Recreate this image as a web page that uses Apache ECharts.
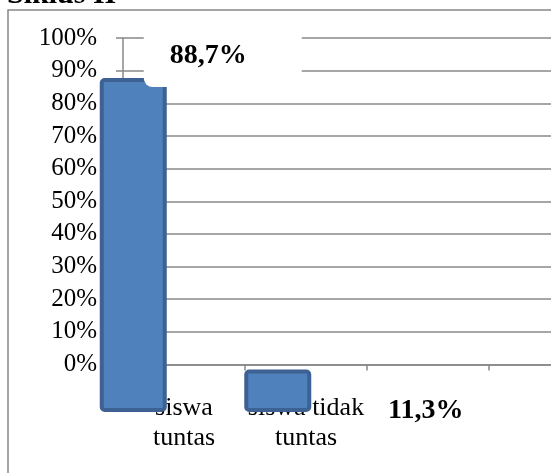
<!DOCTYPE html>
<html>
<head>
<meta charset="utf-8">
<script src="https://cdn.jsdelivr.net/npm/echarts@6/dist/echarts.min.js"></script>
<style>html,body{margin:0;padding:0;background:#fff}#c{width:551px;height:473px}</style>
</head>
<body>
<div id="c"></div>
<script>
var titleText = 'Siklus II';
var categories = ['siswa\ntuntas', 'siswa tidak\ntuntas'];
var values = [88.7, 11.3];
var valueLabels = ['88,7%', '11,3%'];
var yTicks = [0, 10, 20, 30, 40, 50, 60, 70, 80, 90, 100];

var FONT = 'Liberation Serif';
var GRAY = '#888888';
var axisCats = categories.concat(['', '']);
var barSlots = axisCats.map(function () { return ''; });

var labelStyles = [
  {
    show: true, position: [44, -53], align: 'left', verticalAlign: 'top',
    backgroundColor: '#ffffff', borderRadius: 9, padding: [16, 55, 16, 26],
    fontFamily: FONT, fontWeight: 'bold', fontSize: 28, lineHeight: 30, color: '#000'
  },
  {
    show: true, position: [181.5, 41.5], align: 'center', verticalAlign: 'middle',
    fontFamily: FONT, fontWeight: 'bold', fontSize: 28, lineHeight: 30, color: '#000'
  }
];

var barData = values.map(function (v, i) {
  return {
    value: v,
    label: Object.assign({ formatter: valueLabels[i] }, labelStyles[i])
  };
});

var chart = echarts.init(document.getElementById('c'), null, { renderer: 'canvas' });
chart.setOption({
  animation: false,
  backgroundColor: '#fff',
  title: {
    text: titleText, left: 2, top: -25,
    textStyle: { fontFamily: FONT, fontWeight: 'bold', fontSize: 30, lineHeight: 30, color: '#000' }
  },
  grid: [
    { left: 123, top: 38, width: 488, bottom: 108.5, outerBoundsMode: 'none', containLabel: false },
    { left: 61, top: 35.5, width: 578, bottom: 61, outerBoundsMode: 'none', containLabel: false },
    { left: 8, top: 10, width: 620, height: 520, show: true, borderColor: GRAY, borderWidth: 1.5, backgroundColor: 'transparent', outerBoundsMode: 'none', containLabel: false }
  ],
  xAxis: [
    {
      type: 'category', gridIndex: 0, data: axisCats, boundaryGap: true,
      axisLine: { show: true, lineStyle: { color: GRAY, width: 1.5 } },
      axisTick: { show: true, length: 6, lineStyle: { color: GRAY, width: 1.5 } },
      axisLabel: { interval: 0, margin: 29, fontFamily: FONT, fontSize: 26, lineHeight: 30, color: '#000' },
      splitLine: { show: false }
    },
    { type: 'category', gridIndex: 1, data: barSlots, show: false },
    { type: 'category', gridIndex: 2, show: false, data: [''] }
  ],
  yAxis: [
    {
      type: 'value', gridIndex: 0, min: yTicks[0], max: yTicks[yTicks.length - 1], interval: 10,
      axisLine: { show: true, lineStyle: { color: GRAY, width: 1.5 } },
      axisTick: { show: true, length: 7, lineStyle: { color: GRAY, width: 1.5 } },
      axisLabel: { formatter: '{value}%', margin: 26, fontFamily: FONT, fontSize: 25, color: '#000' },
      splitLine: { show: true, lineStyle: { color: GRAY, width: 1.5 } }
    },
    {
      type: 'value', gridIndex: 0, min: yTicks[0], max: yTicks[yTicks.length - 1], interval: 10,
      axisLine: { show: false },
      axisTick: { show: true, inside: true, length: 21, lineStyle: { color: GRAY, width: 1.5 } },
      axisLabel: { show: false },
      splitLine: { show: false }
    },
    { type: 'value', gridIndex: 1, min: 0, max: 100, show: false, splitLine: { show: false } },
    { type: 'value', gridIndex: 2, show: false, splitLine: { show: false } }
  ],
  series: [
    {
      type: 'bar', xAxisIndex: 1, yAxisIndex: 2, barWidth: 67, clip: false,
      data: barData,
      itemStyle: { color: '#4f81bd', borderColor: '#3c6192', borderWidth: 4, borderRadius: 3 }
    }
  ]
});
</script>
</body>
</html>
